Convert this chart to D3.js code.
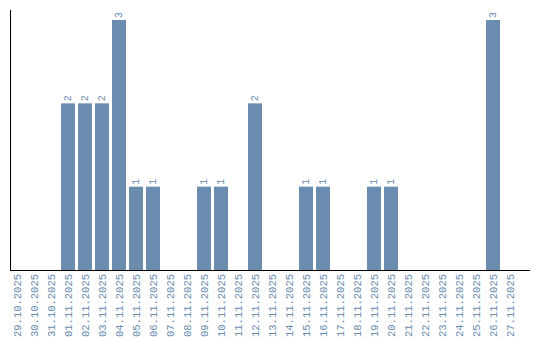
<!DOCTYPE html>
<html>
<head>
<meta charset="utf-8">
<script src="https://cdn.jsdelivr.net/npm/d3@7"></script>
<style>
  body { margin: 0; background: #fff; }
  svg { display: block; }
</style>
</head>
<body>
<script>
const dates = ["29.10.2025","30.10.2025","31.10.2025","01.11.2025","02.11.2025","03.11.2025","04.11.2025","05.11.2025","06.11.2025","07.11.2025","08.11.2025","09.11.2025","10.11.2025","11.11.2025","12.11.2025","13.11.2025","14.11.2025","15.11.2025","16.11.2025","17.11.2025","18.11.2025","19.11.2025","20.11.2025","21.11.2025","22.11.2025","23.11.2025","24.11.2025","25.11.2025","26.11.2025","27.11.2025"]
const counts = [0,0,0,2,2,2,3,1,1,0,0,1,1,0,2,0,0,1,1,0,0,1,1,0,0,0,0,0,3,0]

const W = 540, H = 340
const LEFT = 10, RIGHT = 530, TOP = 10, BASE = 270
const BAR_COLOR = '#6a8caf'
const TEXT_COLOR = '#6a8caf'
const FONT = "Liberation Mono, monospace"

const svg = d3.select("body").append("svg")
  .attr("width", W)
  .attr("height", H)

const x = d3.scaleBand()
  .domain(dates)
  .range([LEFT - 1.5, LEFT - 1.5 + 510])
  .paddingInner(3 / 17)
  .paddingOuter(3 / 34)

const y = d3.scaleLinear()
  .domain([0, 3])
  .range([BASE, 20])

const rows = dates.map((d, i) => ({ date: d, v: counts[i] })).filter(d => d.v > 0)

// bars
svg.append("g").selectAll("rect")
  .data(rows)
  .enter().append("rect")
  .attr("x", d => x(d.date))
  .attr("y", d => y(d.v))
  .attr("width", x.bandwidth())
  .attr("height", d => BASE - y(d.v))
  .attr("fill", BAR_COLOR)

// value labels
svg.append("g").selectAll("text")
  .data(rows)
  .enter().append("text")
  .attr("transform", d => `translate(${x(d.date) + x.bandwidth() / 2 + 3}, ${y(d.v) - 2}) rotate(-90)`)
  .attr("font-family", FONT)
  .attr("font-size", 10)
  .attr("fill", TEXT_COLOR)
  .text(d => d.v)

// x axis
const xAxis = svg.append("g")
  .attr("transform", `translate(0, ${BASE})`)
  .call(d3.axisBottom(x).tickSize(0).tickPadding(0))
xAxis.select(".domain").remove()
xAxis.selectAll("text")
  .attr("transform", "translate(4, 4) rotate(-90)")
  .attr("text-anchor", "end")
  .attr("dy", 0)
  .attr("y", 0)
  .attr("font-family", FONT)
  .attr("font-size", 10.5)
  .attr("fill", TEXT_COLOR)

svg.append("line")
  .attr("x1", LEFT).attr("x2", RIGHT)
  .attr("y1", BASE + 0.5).attr("y2", BASE + 0.5)
  .attr("stroke", "#000")

svg.append("line")
  .attr("x1", LEFT + 0.5).attr("x2", LEFT + 0.5)
  .attr("y1", TOP).attr("y2", BASE)
  .attr("stroke", "#000")
</script>
</body>
</html>
